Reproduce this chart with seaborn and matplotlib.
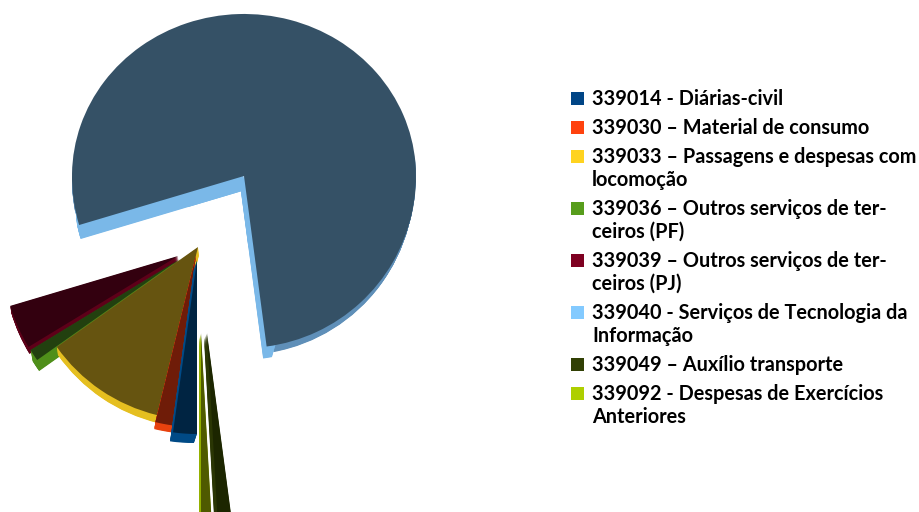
# Exploded pie with a fake 3D rim, expenses by budget code

import matplotlib
matplotlib.use('Agg')
import matplotlib.pyplot as plt
from matplotlib.patches import Wedge, Rectangle, PathPatch
from matplotlib.path import Path
import seaborn as sns

sns.set_theme(style='white')
plt.rcParams['font.family'] = ['Lato', 'DejaVu Sans']

labels = ['339014 - Diárias-civil',
          '339030 – Material de consumo',
          '339033 – Passagens e despesas com\nlocomoção',
          '339036 – Outros serviços de ter-\nceiros (PF)',
          '339039 – Outros serviços de ter-\nceiros (PJ)',
          '339040 - Serviços de Tecnologia da\nInformação',
          '339049 – Auxílio transporte',
          '339092 - Despesas de Exercícios\nAnteriores']
shares = [2.2, 1.6, 11.4, 1.1, 4.1, 77.5, 1.2, 0.9]

legend_colors = ['#004586', '#ff420e', '#ffd320', '#579d1c',
                 '#7e0021', '#83caff', '#314004', '#aecf00']
top_colors = ['#002442', '#6f1c08', '#665410', '#22400f',
              '#33000f', '#355166', '#1c2600', '#4f5a00']
rim_colors = ['#004a86', '#e8420e', '#e5bf20', '#4f8f1a',
              '#5e0019', '#7ab8e8', '#2a3604', '#94b000']

# layout in pixels, y measured from the top
W, H = 920, 512
apex = [(197, 260), (196, 255), (198, 247), (180, 259),
        (178, 256), (244, 176), (207, 333), (201, 333)]
rim = [(-3, 9), (-1, 7), (1, 8), (2, 11), (1, 7), None, (-3, 6), (-2, 6)]
radius = [174, 172, 173, 175, 175, 172, 200, 200]
order = [5, 4, 3, 2, 1, 0, 6, 7]


def sweep(center, r, t1, t2, shift, color, z, width=None):
    # extrude a wedge along shift, one pixel step at a time
    steps = max(1, 2 * int(max(abs(shift[0]), abs(shift[1]))))
    for s in range(1, steps + 1):
        f = s / steps
        ax.add_patch(Wedge((center[0] + f * shift[0], center[1] - f * shift[1]), r, t1, t2,
                           width=width, facecolor=color, linewidth=0, zorder=z))


fig = plt.figure(figsize=(W / 100, H / 100), dpi=100)
ax = fig.add_axes([0, 0, 1, 1])

wedges = ax.pie(shares, colors=top_colors, startangle=270, counterclock=False,
                radius=172, frame=True)[0]
ax.set_xlim(0, W)
ax.set_ylim(0, H)
ax.set_aspect('equal')
ax.axis('off')

for z, i in enumerate(order):
    w = wedges[i]
    c = (apex[i][0], H - apex[i][1])
    w.set_center(c)
    w.set_radius(radius[i])
    w.set_zorder(2 * z + 2)
    w.set_linewidth(0)
    if rim[i]:
        sweep(c, radius[i], w.theta1, w.theta2, rim[i], rim_colors[i], 2 * z + 1)

# the big slice: flatter above its apex, light cut faces, darker outer rim
big = wedges[5]
c = (apex[5][0], H - apex[5][1])
cut_right, cut_left = (-3.5, 12), (1.5, 14)
sweep(c, 172, big.theta1, big.theta1 + 3, cut_right, rim_colors[5], 1.5)
sweep(c, 172, big.theta2 - 5, big.theta2, cut_left, rim_colors[5], 1.5)
sweep(c, 60, big.theta1, big.theta1 + 40, cut_right, rim_colors[5], 1.5)
sweep(c, 60, big.theta2 - 40, big.theta2, cut_left, rim_colors[5], 1.5)
sweep(c, 172, big.theta1 + 3, 366, (-2, 7), '#5f8fb8', 1.2, width=40)
sweep(c, 172, 180, big.theta2 - 5, (0, 3), '#5f8fb8', 1.2, width=40)

p = big.get_path()
verts = p.vertices.copy()
verts[:, 1] = [c[1] + (v - c[1]) * (0.942 if v > c[1] else 1) for v in verts[:, 1]]
big.set_visible(False)
ax.add_patch(PathPatch(Path(verts, p.codes), facecolor=top_colors[5], linewidth=0, zorder=2))

# legend, one square per entry next to the first text line
y = 99
for name, col in zip(labels, legend_colors):
    ax.add_patch(Rectangle((571, H - y - 6), 13, 13, facecolor=col, linewidth=0, zorder=30))
    for line in name.split('\n'):
        ax.text(592, H - y, line, fontsize=14.3, fontweight='bold', color='black',
                va='center', ha='left', zorder=30)
        y += 23
    y += 6

fig.savefig('out.png', dpi=100)
